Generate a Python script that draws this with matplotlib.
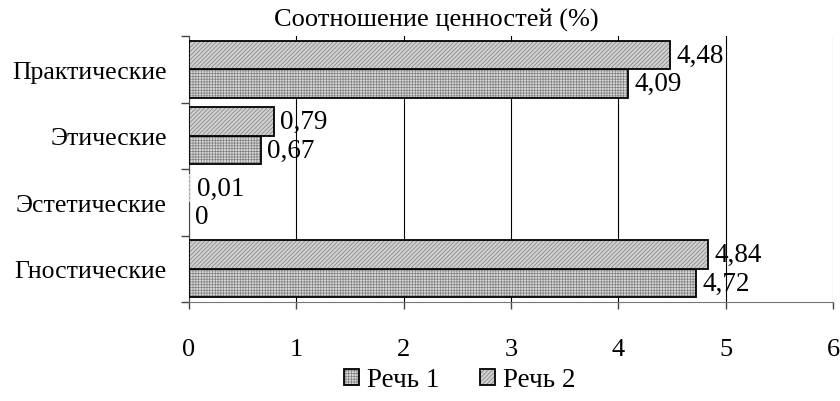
import matplotlib
matplotlib.use("Agg")
import matplotlib.pyplot as plt
import numpy as np

plt.rcParams['font.family'] = ['Liberation Serif', 'DejaVu Serif']
plt.rcParams['hatch.linewidth'] = 0.5

categories = ["Гностические", "Эстетические", "Этические", "Практические"]
speech1 = [4.72, 0, 0.67, 4.09]
speech2 = [4.84, 0.01, 0.79, 4.48]
labels1 = ["4,72", "0", "0,67", "4,09"]
labels2 = ["4,84", "0,01", "0,79", "4,48"]
series_names = ["Речь 1", "Речь 2"]
xticks = [0, 1, 2, 3, 4, 5, 6]

fig = plt.figure(figsize=(8.4, 4.02), dpi=100)
ax = fig.add_axes([189/840, 1 - 303/402, (833-189)/840, (303-37)/402])

y = np.arange(len(categories))
h = 0.43
b1 = ax.barh(y - h/2, speech1, height=h, color='#d8d8d8', edgecolor='black',
             linewidth=1.3, hatch='++++++', label=series_names[0], zorder=3)
b2 = ax.barh(y + h/2, speech2, height=h, color='#d0d0d0', edgecolor='black',
             linewidth=1.3, hatch='////////', label=series_names[1], zorder=3)
for bar in list(b1) + list(b2):
    bar._hatch_color = (0.5, 0.5, 0.5, 1)
    if bar.get_width() < 0.05:
        bar.set_linewidth(0)

for i in range(len(categories)):
    ax.text(speech1[i] + 0.06, y[i] - h/2, labels1[i], va='center', ha='left', fontsize=19.5, zorder=4)
    ax.text(speech2[i] + 0.06, y[i] + h/2, labels2[i], va='center', ha='left', fontsize=19.5, zorder=4)

ax.set_xlim(0, 6)
ax.set_ylim(-0.5, 3.5)
ax.set_xticks(xticks)
ax.set_xticklabels([str(t) for t in xticks], fontsize=19)
ax.set_yticks(y)
ax.set_yticklabels(categories, fontsize=18.5)
ax.set_yticks(np.arange(-0.5, 4, 1), minor=True)
ax.tick_params(axis='y', which='major', length=0, pad=16)
ax.tick_params(axis='y', which='minor', length=6, width=1, color='#444444')
ax.tick_params(axis='x', which='major', length=5, width=1, color='#444444', pad=21)
ax.xaxis.grid(True, color='black', linewidth=0.8, zorder=0)
ax.get_xgridlines()[-1].set_color('#888888')
for s in ['top', 'right']:
    ax.spines[s].set_visible(False)
ax.spines['bottom'].set_color('#777777')
ax.spines['left'].set_color('#444444')

fig.text(436/840, 1 - 20/402, "Соотношение ценностей (%)", ha='center', va='center', fontsize=19)

leg = fig.legend(handles=[b1, b2], labels=series_names, loc='center', bbox_to_anchor=(460/840, 1 - 381/402),
                 ncol=2, frameon=False, fontsize=19.5, handlelength=0.55, handleheight=0.55,
                 columnspacing=1.5, handletextpad=0.3)

fig.savefig("out.png", dpi=100)
